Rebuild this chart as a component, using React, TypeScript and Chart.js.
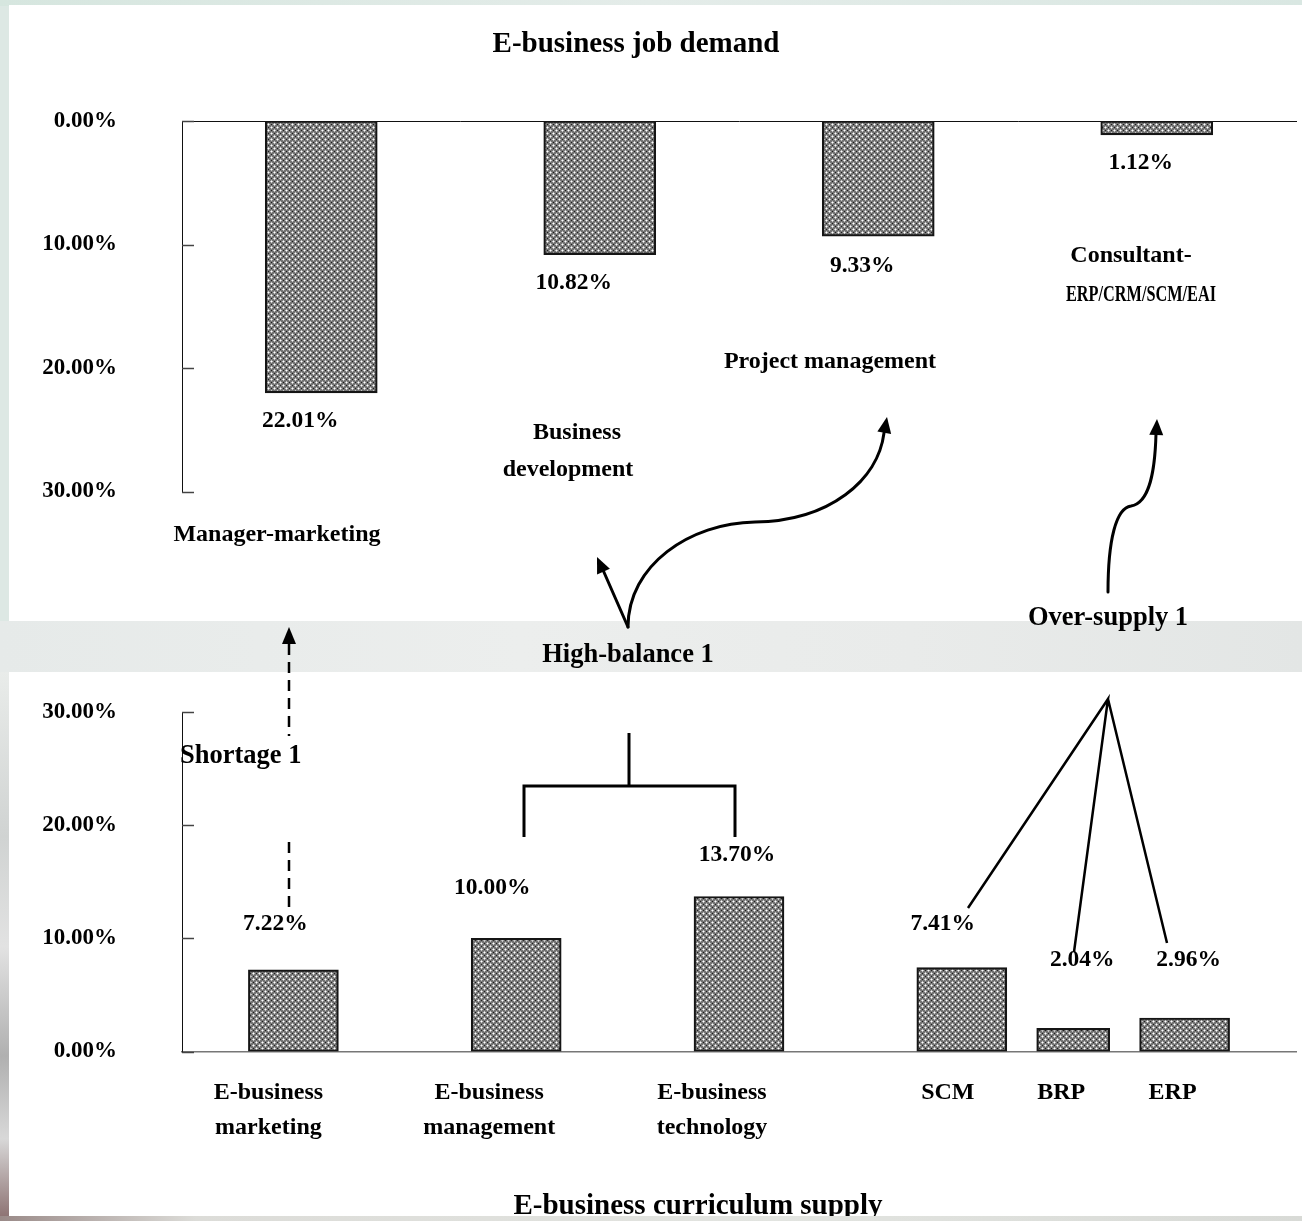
import React, { useEffect, useRef } from 'react';
import { Chart, registerables } from 'chart.js';

Chart.register(...registerables);

// ---------- data ----------
const demandCategories = ['Manager-marketing', 'Business development', 'Project management', 'Consultant-ERP/CRM/SCM/EAI'];
const demandLabelLines = [['Manager-marketing'], ['Business', 'development'], ['Project management'], ['Consultant-', 'ERP/CRM/SCM/EAI']];
const demandValues = [22.01, 10.82, 9.33, 1.12];

// supply categories include blank slots that space the groups
const supplyCategories = ['', 'E-business marketing', '', 'E-business management', '', 'E-business technology', '', 'SCM', 'BRP', 'ERP', ''];
const supplyLabelLines: Record<string, string[]> = {
  'E-business marketing': ['E-business', 'marketing'],
  'E-business management': ['E-business', 'management'],
  'E-business technology': ['E-business', 'technology'],
  SCM: ['SCM'],
  BRP: ['BRP'],
  ERP: ['ERP'],
};
const supplyValues: (number | null)[] = [null, 7.22, null, 10.0, null, 13.7, null, 7.41, 2.04, 2.96, null];
const narrowCategory = 'BRP';

const axisMin = 0;
const axisMax = 30;
const axisStep = 10;

const topTitle = 'E-business job demand';
const bottomTitle = 'E-business curriculum supply';
const shortageLabel = 'Shortage 1';
const highBalanceLabel = 'High-balance 1';
const overSupplyLabel = 'Over-supply 1';

// ---------- style / layout ----------
const W = 1302;
const H = 1221;
const FONT = "'Liberation Serif', 'Times New Roman', Times, serif";
const font = (size: number) => `bold ${size}px ${FONT}`;

const fmt = (v: number) => v.toFixed(2) + '%';

function makePattern(ctx: CanvasRenderingContext2D): CanvasPattern | string {
  const t = document.createElement('canvas');
  t.width = 6;
  t.height = 6;
  const c = t.getContext('2d');
  if (!c) return '#999';
  c.fillStyle = '#747474';
  c.fillRect(0, 0, 6, 6);
  const px = (x: number, y: number, col: string) => {
    c.fillStyle = col;
    c.fillRect(x, y, 1, 1);
  };
  for (const [cx, cy] of [[1, 1], [4, 4]]) {
    px(cx, cy, '#ffffff');
    px((cx + 5) % 6, cy, '#c4c4c4');
    px((cx + 1) % 6, cy, '#c4c4c4');
    px(cx, (cy + 5) % 6, '#c4c4c4');
    px(cx, (cy + 1) % 6, '#c4c4c4');
  }
  px(4, 1, '#1e1e1e');
  px(1, 4, '#1e1e1e');
  return ctx.createPattern(t, 'repeat') ?? '#999';
}

function text(ctx: CanvasRenderingContext2D, s: string, x: number, y: number, size: number, align: CanvasTextAlign = 'center', maxWidth?: number) {
  ctx.font = font(size);
  ctx.fillStyle = '#000';
  ctx.textAlign = align;
  ctx.textBaseline = 'middle';
  if (maxWidth) ctx.fillText(s, x, y, maxWidth);
  else ctx.fillText(s, x, y);
}

function arrowHead(ctx: CanvasRenderingContext2D, tipX: number, tipY: number, fromX: number, fromY: number, len = 16, half = 7) {
  const a = Math.atan2(tipY - fromY, tipX - fromX);
  const bx = tipX - len * Math.cos(a);
  const by = tipY - len * Math.sin(a);
  ctx.beginPath();
  ctx.moveTo(tipX, tipY);
  ctx.lineTo(bx + half * Math.sin(a), by - half * Math.cos(a));
  ctx.lineTo(bx - half * Math.sin(a), by + half * Math.cos(a));
  ctx.closePath();
  ctx.fillStyle = '#000';
  ctx.fill();
}

const innerTicks = {
  id: 'innerTicks',
  afterDraw(chart: any) {
    const { ctx, chartArea } = chart;
    const y = chart.scales.y;
    ctx.save();
    ctx.strokeStyle = '#444';
    ctx.lineWidth = 1.5;
    y.ticks.forEach((t: any) => {
      const py = Math.round(y.getPixelForValue(t.value)) + 0.5;
      ctx.beginPath();
      ctx.moveTo(chartArea.left, py);
      ctx.lineTo(chartArea.left + 12, py);
      ctx.stroke();
    });
    ctx.restore();
  },
};

// value label offsets relative to bar end (px)
const topValueOffsets = [[-21, 28], [-26, 28], [-16, 30], [-16, 28]];
const topCatLinePos = [[[277, 535]], [[577, 433], [568, 470]], [[830, 362]], [[1131, 256], [1141, 295]]];
const topCatMaxWidth = [[0], [0, 0], [0], [0, 150]];

const topAnnotations = {
  id: 'topAnnotations',
  afterDraw(chart: any) {
    const { ctx } = chart;
    const xs = chart.scales.x;
    const ys = chart.scales.y;
    ctx.save();
    text(ctx, topTitle, 636, 45, 29);
    demandValues.forEach((v, i) => {
      const x = xs.getPixelForValue(i) + topValueOffsets[i][0];
      const y = ys.getPixelForValue(v) + topValueOffsets[i][1];
      text(ctx, fmt(v), x, y, 23.5);
    });
    demandLabelLines.forEach((lines, i) => {
      lines.forEach((ln, j) => {
        const [x, y] = topCatLinePos[i][j];
        text(ctx, ln, x, y, 24, 'center', topCatMaxWidth[i][j] || undefined);
      });
    });
    // arrows from High-balance
    ctx.strokeStyle = '#000';
    ctx.lineWidth = 3;
    ctx.lineCap = 'round';
    ctx.beginPath();
    ctx.moveTo(628, 627);
    ctx.lineTo(603, 570);
    ctx.stroke();
    arrowHead(ctx, 597, 557, 628, 627);
    ctx.beginPath();
    ctx.moveTo(628, 627);
    ctx.bezierCurveTo(628, 565, 690, 523, 755, 522);
    ctx.bezierCurveTo(830, 521, 878, 480, 884, 433);
    ctx.stroke();
    arrowHead(ctx, 887, 417, 883, 440);
    // over-supply arrow
    ctx.beginPath();
    ctx.moveTo(1108, 592);
    ctx.bezierCurveTo(1108, 540, 1116, 508, 1131, 506);
    ctx.bezierCurveTo(1150, 503, 1155, 470, 1156, 434);
    ctx.stroke();
    arrowHead(ctx, 1157, 419, 1156, 440);
    text(ctx, highBalanceLabel, 628, 655, 26.5);
    text(ctx, overSupplyLabel, 1108, 618, 26.5);
    ctx.restore();
  },
};

const bottomValueOffsets: Record<string, number[]> = {
  'E-business marketing': [-18, -46],
  'E-business management': [-24, -50],
  'E-business technology': [-2, -42],
  SCM: [-19, -44],
  BRP: [9, -68],
  ERP: [4, -58],
};
const bottomCatDx: Record<string, number> = {
  'E-business marketing': -25,
  'E-business management': -27,
  'E-business technology': -27,
  SCM: -14,
  BRP: -12,
  ERP: -12,
};

const bottomAnnotations = {
  id: 'bottomAnnotations',
  afterDraw(chart: any) {
    const { ctx } = chart;
    const xs = chart.scales.x;
    const ys = chart.scales.y;
    ctx.save();
    supplyCategories.forEach((cat, i) => {
      const v = supplyValues[i];
      if (!cat || v == null) return;
      const bx = xs.getPixelForValue(i);
      const off = bottomValueOffsets[cat];
      text(ctx, fmt(v), bx + off[0], ys.getPixelForValue(v) + off[1], 23.5);
      const lines = supplyLabelLines[cat];
      lines.forEach((ln, j) => text(ctx, ln, bx + bottomCatDx[cat], 1093 + j * 35, 24));
    });
    text(ctx, shortageLabel, 180, 756, 26.5, 'left');
    text(ctx, bottomTitle, 698, 1207, 29);
    ctx.strokeStyle = '#000';
    ctx.lineWidth = 2.5;
    // dashed arrow
    ctx.setLineDash([11, 7]);
    ctx.beginPath();
    ctx.moveTo(289, 644);
    ctx.lineTo(289, 736);
    ctx.moveTo(289, 842);
    ctx.lineTo(289, 908);
    ctx.stroke();
    ctx.setLineDash([]);
    arrowHead(ctx, 289, 627, 289, 700, 17, 7);
    // bracket
    ctx.lineWidth = 3;
    ctx.lineCap = 'butt';
    ctx.beginPath();
    ctx.moveTo(629, 733);
    ctx.lineTo(629, 786);
    ctx.moveTo(524, 837);
    ctx.lineTo(524, 786);
    ctx.lineTo(735, 786);
    ctx.lineTo(735, 837);
    ctx.stroke();
    // fan
    ctx.lineWidth = 2.5;
    ctx.beginPath();
    ctx.moveTo(968, 908);
    ctx.lineTo(1108, 699);
    ctx.lineTo(1074, 952);
    ctx.moveTo(1108, 699);
    ctx.lineTo(1167, 943);
    ctx.stroke();
    ctx.restore();
  },
};

const tickFont = { family: FONT, size: 23, weight: 'bold' as const };

export default function App() {
  const topRef = useRef<HTMLCanvasElement>(null);
  const botRef = useRef<HTMLCanvasElement>(null);

  useEffect(() => {
    const tc = topRef.current!;
    const bc = botRef.current!;
    const pattern = makePattern(tc.getContext('2d')!);
    const pattern2 = makePattern(bc.getContext('2d')!);

    const yAxis = (reverse: boolean) => ({
      reverse,
      min: axisMin,
      max: axisMax,
      ticks: {
        stepSize: axisStep,
        callback: (v: any) => fmt(Number(v)),
        color: '#000',
        font: tickFont,
        padding: 65,
      },
      grid: { display: false, drawTicks: false },
      border: { color: '#111', width: 1 },
      afterFit: (s: any) => {
        s.width = 182;
      },
    });

    const top = new Chart(tc, {
      type: 'bar',
      data: {
        labels: demandCategories,
        datasets: [
          {
            data: demandValues,
            backgroundColor: pattern as any,
            borderColor: '#151515',
            borderWidth: 2.2,
            borderSkipped: false,
            barThickness: 112,
          },
        ],
      },
      options: {
        animation: false,
        responsive: false,
        events: [],
        layout: { padding: { left: 0, right: 6, top: 121, bottom: H - 491.5 } },
        plugins: { legend: { display: false }, tooltip: { enabled: false } },
        scales: {
          x: {
            position: 'top',
            grid: { display: false, drawTicks: false },
            ticks: { display: false },
            border: { color: '#111', width: 1 },
            afterFit: (s: any) => {
              s.height = 0;
            },
          },
          y: yAxis(true) as any,
        },
      },
      plugins: [innerTicks, topAnnotations],
    });

    const narrowIdx = supplyCategories.indexOf(narrowCategory);
    const bottom = new Chart(bc, {
      type: 'bar',
      data: {
        labels: supplyCategories,
        datasets: [
          {
            data: supplyValues.map((v, i) => (i === narrowIdx ? null : v)),
            backgroundColor: pattern2 as any,
            borderColor: '#151515',
            borderWidth: 2.2,
            borderSkipped: false,
            barThickness: 90,
            grouped: false,
          },
          {
            data: supplyValues.map((v, i) => (i === narrowIdx ? v : null)),
            backgroundColor: pattern2 as any,
            borderColor: '#151515',
            borderWidth: 2.2,
            borderSkipped: false,
            barThickness: 73,
            grouped: false,
          },
        ],
      },
      options: {
        animation: false,
        responsive: false,
        events: [],
        layout: { padding: { left: 0, right: 6, top: 712, bottom: H - 1051.5 } },
        plugins: { legend: { display: false }, tooltip: { enabled: false } },
        scales: {
          x: {
            offset: false,
            grid: { display: false, drawTicks: false },
            ticks: { display: false },
            border: { color: '#777', width: 1.5 },
            afterFit: (s: any) => {
              s.height = 0;
            },
          },
          y: yAxis(false) as any,
        },
      },
      plugins: [innerTicks, bottomAnnotations],
    });

    return () => {
      top.destroy();
      bottom.destroy();
    };
  }, []);

  const abs = (s: React.CSSProperties): React.CSSProperties => ({ position: 'absolute', ...s });

  return (
    <div style={abs({ left: 0, top: 0, width: W, height: H, overflow: 'hidden', background: '#dde8e4' })}>
      <div style={abs({ left: 0, top: 0, width: W, height: 6, background: 'linear-gradient(to right, #d6e6df, #e4ece9 50%, #d9e7e2)' })} />
      <div style={abs({ left: 9, top: 5, width: W - 9, height: 616, background: '#ffffff' })} />
      <div style={abs({ left: 0, top: 621, width: W, height: 51, background: 'linear-gradient(to right, #e6eae9, #eceeed 40%, #e9ebea 70%, #e3e6e5)' })} />
      <div style={abs({ left: 0, top: 672, width: 9, height: H - 672, background: 'linear-gradient(to bottom, #e9ecea, #d0d3d2 30%, #e2e2e2 50%, #b0b0b0 70%, #d8d8d8 85%, #8a6e6e)' })} />
      <div style={abs({ left: 9, top: 672, width: W - 9, height: 1216 - 672, background: '#ffffff' })} />
      <canvas ref={topRef} width={W} height={H} style={abs({ left: 0, top: 0, width: W, height: H })} />
      <canvas ref={botRef} width={W} height={H} style={abs({ left: 0, top: 0, width: W, height: H })} />
      <div style={abs({ left: 0, top: 1216, width: W, height: H - 1216, background: 'linear-gradient(to right, #9a8a88, #dcdcd8 15%, #e2e4e0 60%, #d8dad6)' })} />
    </div>
  );
}
